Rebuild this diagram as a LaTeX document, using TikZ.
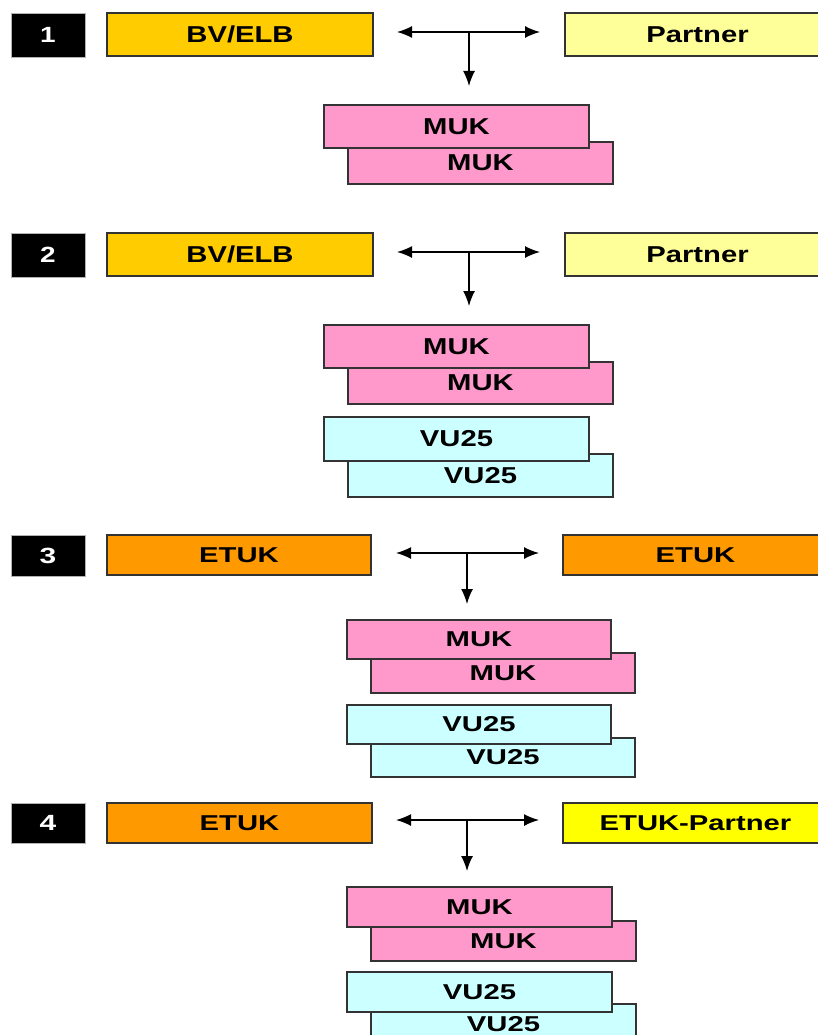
\documentclass[tikz,border=0pt]{standalone}
\usepackage{fontspec}
\setmainfont{Liberation Sans}
\usetikzlibrary{arrows.meta}
\definecolor{gold}{HTML}{FFCC00}
\definecolor{paleyellow}{HTML}{FFFF99}
\definecolor{mukpink}{HTML}{FF99CC}
\definecolor{vucyan}{HTML}{CCFFFF}
\definecolor{etukorange}{HTML}{FF9900}
\definecolor{brightyellow}{HTML}{FFFF00}
% wide bold lettering: upper blocks slightly taller, lower blocks slightly wider
\newcommand{\wide}[1]{\scalebox{1.27}[1]{#1}}
\newcommand{\wider}[1]{\scalebox{1.36}[1]{#1}}
\tikzset{
  box/.style={draw=black!80, line width=1.1pt, rectangle, inner sep=0pt,
    font=\fontsize{23}{23}\selectfont\bfseries, text=black},
  lowbox/.style={box, font=\fontsize{21.5}{21.5}\selectfont\bfseries},
  numbox/.style={fill=black, draw=black!30, line width=0.8pt, rectangle, inner sep=0pt,
    minimum width=74pt, font=\fontsize{22}{22}\selectfont\bfseries, text=white},
  arr/.style={line width=1.4pt, -{Latex[length=15pt,width=12pt]}},
  darr/.style={line width=1.4pt, {Latex[length=15pt,width=12pt]}-{Latex[length=15pt,width=12pt]}}
}
\begin{document}
\begin{tikzpicture}[x=1pt,y=-1pt]
\useasboundingbox (0,0) rectangle (818,1035);
\clip (0,0) rectangle (818,1035);

% ---------- block 1 ----------
\node[numbox, minimum height=44pt] (n1) at (48,35) {\wide{1}};
\node[box, fill=gold, minimum width=266pt, minimum height=43pt] (bv1) at (240,34.5) {\wide{BV/ELB}};
\node[box, fill=paleyellow, minimum width=265pt, minimum height=43pt] (p1) at (697.5,34.5) {\wide{Partner}};
\coordinate (l1) at (397,32);
\coordinate (r1) at (540,32);
\coordinate (j1) at (469,32);
\coordinate (d1) at (469,86);
\draw[darr] (l1) -- (r1);
\draw[arr] (j1) -- (d1);
\node[box, fill=mukpink, minimum width=265pt, minimum height=42pt] (m1b) at (480.5,163) {\wide{MUK}};
\node[box, fill=mukpink, minimum width=265pt, minimum height=43pt] (m1a) at (456.5,126.5) {\wide{MUK}};

% ---------- block 2 ----------
\node[numbox, minimum height=44pt] (n2) at (48,255) {\wide{2}};
\node[box, fill=gold, minimum width=266pt, minimum height=43pt] (bv2) at (240,254.5) {\wide{BV/ELB}};
\node[box, fill=paleyellow, minimum width=265pt, minimum height=43pt] (p2) at (697.5,254.5) {\wide{Partner}};
\coordinate (l2) at (397,252);
\coordinate (r2) at (540,252);
\coordinate (j2) at (469,252);
\coordinate (d2) at (469,306);
\draw[darr] (l2) -- (r2);
\draw[arr] (j2) -- (d2);
\node[box, fill=mukpink, minimum width=265pt, minimum height=42pt] (m2b) at (480.5,383) {\wide{MUK}};
\node[box, fill=mukpink, minimum width=265pt, minimum height=43pt] (m2a) at (456.5,346.5) {\wide{MUK}};
\node[box, fill=vucyan, minimum width=265pt, minimum height=43pt] (v2b) at (480.5,475.5) {\wide{VU25}};
\node[box, fill=vucyan, minimum width=265pt, minimum height=44pt] (v2a) at (456.5,439) {\wide{VU25}};

% ---------- block 3 ----------
\node[numbox, minimum height=41pt] (n3) at (48,555.5) {\wider{3}};
\node[lowbox, fill=etukorange, minimum width=264pt, minimum height=40pt] (e3a) at (239,555) {\wider{ETUK}};
\node[lowbox, fill=etukorange, minimum width=265pt, minimum height=40pt] (e3b) at (695.5,555) {\wider{ETUK}};
\coordinate (l3) at (396,553);
\coordinate (r3) at (539,553);
\coordinate (j3) at (467,553);
\coordinate (d3) at (467,604);
\draw[darr] (l3) -- (r3);
\draw[arr] (j3) -- (d3);
\node[lowbox, fill=mukpink, minimum width=264pt, minimum height=40pt] (m3b) at (503,673) {\wider{MUK}};
\node[lowbox, fill=mukpink, minimum width=264pt, minimum height=39pt] (m3a) at (479,639.5) {\wider{MUK}};
\node[lowbox, fill=vucyan, minimum width=264pt, minimum height=39pt] (v3b) at (503,757.5) {\wider{VU25}};
\node[lowbox, fill=vucyan, minimum width=264pt, minimum height=39pt] (v3a) at (479,724.5) {\wider{VU25}};

% ---------- block 4 ----------
\node[numbox, minimum height=40pt] (n4) at (48,823) {\wider{4}};
\node[lowbox, fill=etukorange, minimum width=265pt, minimum height=40pt] (e4a) at (239.5,823) {\wider{ETUK}};
\node[lowbox, fill=brightyellow, minimum width=265pt, minimum height=40pt] (ep4) at (695.5,823) {\wider{ETUK-Partner}};
\coordinate (l4) at (396,820);
\coordinate (r4) at (539,820);
\coordinate (j4) at (467,820);
\coordinate (d4) at (467,871);
\draw[darr] (l4) -- (r4);
\draw[arr] (j4) -- (d4);
\node[lowbox, fill=mukpink, minimum width=265pt, minimum height=40pt] (m4b) at (503.5,941) {\wider{MUK}};
\node[lowbox, fill=mukpink, minimum width=265pt, minimum height=40pt] (m4a) at (479.5,907) {\wider{MUK}};
\node[lowbox, fill=vucyan, minimum width=265pt, minimum height=40pt] (v4b) at (503.5,1024) {\wider{VU25}};
\node[lowbox, fill=vucyan, minimum width=265pt, minimum height=40pt] (v4a) at (479.5,992) {\wider{VU25}};
\end{tikzpicture}
\end{document}
